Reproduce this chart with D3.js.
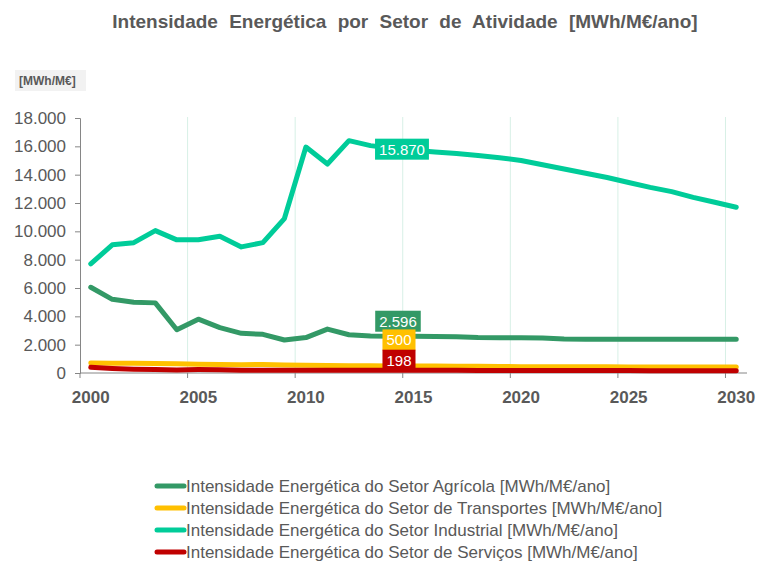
<!DOCTYPE html>
<html>
<head>
<meta charset="utf-8">
<script src="https://cdn.jsdelivr.net/npm/d3@7"></script>
<style>
  body { margin: 0; background: #fff; }
  text { font-family: Arial, "Liberation Sans", sans-serif; }
</style>
</head>
<body>
<svg width="761" height="565"></svg>
<script>
var years = d3.range(2000, 2031);

var agricola = [6050, 5200, 5000, 4950, 3050, 3800, 3200, 2800, 2730, 2330, 2500, 3100, 2700, 2620, 2596,
  2590, 2580, 2560, 2500, 2490, 2480, 2470, 2400, 2390, 2390, 2390, 2390, 2390, 2390, 2390, 2390];
var transportes = [700, 690, 690, 670, 660, 620, 600, 580, 600, 560, 550, 530, 520, 510, 500,
  500, 490, 480, 470, 460, 450, 450, 440, 440, 440, 430, 430, 430, 420, 420, 420];
var industrial = [7700, 9050, 9200, 10050, 9400, 9400, 9650, 8900, 9200, 10900, 15950, 14750, 16400, 16050, 15870,
  15720, 15600, 15500, 15350, 15200, 15000, 14700, 14400, 14100, 13800, 13450, 13100, 12800, 12400, 12050, 11700];
var servicos = [400, 320, 270, 250, 220, 240, 230, 200, 200, 190, 200, 200, 200, 200, 198,
  195, 190, 190, 185, 180, 180, 175, 175, 170, 170, 170, 165, 165, 165, 160, 160];

var seriesNames = [
  "Intensidade Energética do Setor Agrícola [MWh/M€/ano]",
  "Intensidade Energética do Setor de Transportes [MWh/M€/ano]",
  "Intensidade Energética do Setor Industrial [MWh/M€/ano]",
  "Intensidade Energética do Setor de Serviços [MWh/M€/ano]"
];
var seriesColors = ["#339966", "#FFC000", "#00CC99", "#C00000"];
var yTicks = [0, 2000, 4000, 6000, 8000, 10000, 12000, 14000, 16000, 18000];
var xTickYears = [2000, 2005, 2010, 2015, 2020, 2025, 2030];
var labelYear = 2014;

var series = [agricola, transportes, industrial, servicos].map(function(vals, i) {
  return { name: seriesNames[i], color: seriesColors[i], values: vals };
});

var pt = d3.formatLocale({ decimal: ",", thousands: ".", grouping: [3], currency: ["", "€"] });
var fmt = pt.format(",d");

var svg = d3.select("svg");
var grey = "#595959";

var x = d3.scaleBand().domain(years).range([80, 747]).padding(0);
var y = d3.scaleLinear().domain([0, 18000]).range([373, 118]);
function cx(yr) { return x(yr) + x.bandwidth() / 2; }

// title
svg.append("text")
  .attr("x", 405)
  .attr("y", 28)
  .attr("text-anchor", "middle")
  .style("font-size", "19px")
  .style("font-weight", "bold")
  .style("word-spacing", "6px")
  .style("fill", grey)
  .text("Intensidade Energética por Setor de Atividade [MWh/M€/ano]");

// unit box
svg.append("rect")
  .attr("x", 15).attr("y", 70)
  .attr("width", 71).attr("height", 21)
  .style("fill", "#f2f2f2");
svg.append("text")
  .attr("x", 19).attr("y", 85)
  .style("font-size", "12px")
  .style("font-weight", "bold")
  .style("fill", grey)
  .text("[MWh/M€]");

// vertical gridlines at category boundaries
svg.append("g")
  .selectAll("line")
  .data(xTickYears.filter(function(d) { return d != 2000; }))
  .enter().append("line")
  .attr("x1", function(d) { return x(d); })
  .attr("x2", function(d) { return x(d); })
  .attr("y1", y(18000) - 1)
  .attr("y2", y(0))
  .style("stroke", "#d7f0e6")
  .style("stroke-width", 1);

// y axis
var yAxis = svg.append("g")
  .attr("transform", "translate(80,0)")
  .call(d3.axisLeft(y).tickValues(yTicks).tickSize(5).tickPadding(9).tickFormat(fmt));
yAxis.select(".domain").style("stroke", "#868686");
yAxis.selectAll(".tick line").style("stroke", "#868686");
yAxis.selectAll("text")
  .style("font-size", "17px")
  .style("fill", grey)
  .style("font-family", "Arial, 'Liberation Sans', sans-serif");

// x axis
var xg = svg.append("g").attr("transform", "translate(0," + y(0) + ")");
xg.append("line")
  .attr("x1", 80).attr("x2", 747)
  .style("stroke", "#868686");
xg.selectAll(".tk")
  .data(xTickYears)
  .enter().append("line")
  .attr("x1", function(d) { return x(d); })
  .attr("x2", function(d) { return x(d); })
  .attr("y1", 0).attr("y2", 5)
  .style("stroke", "#868686");
xg.selectAll("text")
  .data(xTickYears)
  .enter().append("text")
  .attr("x", function(d) { return cx(d); })
  .attr("y", 30)
  .attr("text-anchor", "middle")
  .style("font-size", "17px")
  .style("font-weight", "bold")
  .style("fill", grey)
  .text(function(d) { return d; });

// lines
var line = d3.line()
  .x(function(d, i) { return cx(years[i]); })
  .y(function(d) { return y(d); });

svg.append("g")
  .selectAll("path")
  .data(series)
  .enter().append("path")
  .attr("d", function(d) { return line(d.values); })
  .style("fill", "none")
  .style("stroke", function(d) { return d.color; })
  .style("stroke-width", 5)
  .style("stroke-linejoin", "round")
  .style("stroke-linecap", "round");

// data labels (manually nudged, like the original)
var li = years.indexOf(labelYear);
var labels = [
  { s: 2, dx: 10, dy: 1 },
  { s: 0, dx: 6, dy: -15 },
  { s: 1, dx: 7, dy: -26 },
  { s: 3, dx: 7, dy: -10 }
];
labels.forEach(function(l) {
  var sr = series[l.s];
  var v = sr.values[li];
  var g = svg.append("g")
    .attr("transform", "translate(" + (cx(labelYear) + l.dx) + "," + (y(v) + l.dy) + ")");
  var rect = g.append("rect").style("fill", sr.color);
  var t = g.append("text")
    .attr("text-anchor", "middle")
    .attr("dy", "0.36em")
    .style("font-size", "15px")
    .style("fill", "#fff")
    .text(fmt(v));
  var w = t.node().getComputedTextLength() + 8;
  rect.attr("x", -w / 2).attr("y", -10.5).attr("width", w).attr("height", 21);
});

// legend
var legend = svg.append("g")
  .selectAll("g")
  .data(series)
  .enter().append("g")
  .attr("transform", function(d, i) { return "translate(157," + (486 + i * 22) + ")"; });
legend.append("line")
  .attr("x1", 0).attr("x2", 27)
  .style("stroke", function(d) { return d.color; })
  .style("stroke-width", 5)
  .style("stroke-linecap", "round");
legend.append("text")
  .attr("x", 29)
  .attr("dy", "0.36em")
  .style("font-size", "17px")
  .style("fill", grey)
  .text(function(d) { return d.name; });
</script>
</body>
</html>
